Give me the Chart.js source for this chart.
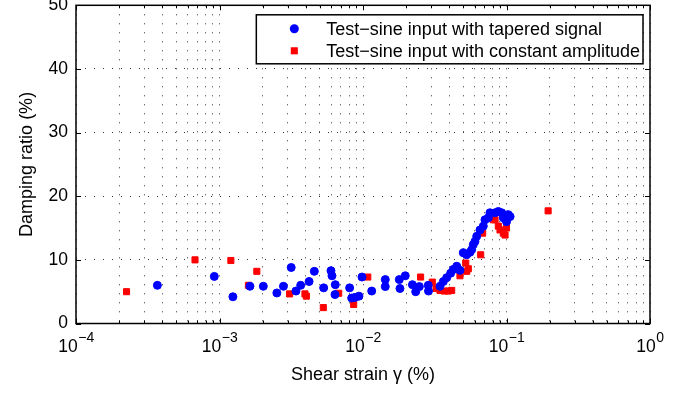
<!DOCTYPE html>
<html>
<head>
<meta charset="utf-8">
<script src="https://cdn.jsdelivr.net/npm/chart.js@4.4.1/dist/chart.umd.min.js"></script>
<style>
  html, body { margin: 0; padding: 0; background: #fff; }
  #wrap { width: 692px; height: 395px; }
</style>
</head>
<body>
<div id="wrap"><canvas id="dampingChart"></canvas></div>
<script>

// test-sine input with tapered signal (blue circles)
const taperedStrain = [3.69e-4, 9.2e-4, 1.24e-3, 1.63e-3, 2.02e-3, 2.51e-3, 2.79e-3, 3.16e-3, 3.41e-3, 3.68e-3,
    4.21e-3, 4.58e-3, 5.32e-3, 5.98e-3, 6.08e-3, 6.41e-3, 6.38e-3, 8.07e-3, 8.34e-3, 8.79e-3,
    9.37e-3, 9.84e-3, 1.15e-2, 1.43e-2, 1.43e-2, 1.79e-2, 1.97e-2, 1.81e-2, 2.21e-2, 2.47e-2,
    2.33e-2, 2.85e-2, 2.86e-2, 3.44e-2, 3.63e-2, 3.83e-2, 4.08e-2, 4.26e-2, 4.5e-2, 4.74e-2,
    5.0e-2, 5.28e-2, 5.57e-2, 5.72e-2, 5.87e-2, 6.03e-2, 6.2e-2, 6.53e-2, 6.89e-2, 7.08e-2,
    7.47e-2, 7.67e-2, 8.32e-2, 8.77e-2, 9.26e-2, 9.77e-2, 0.103, 0.106, 0.1, 9.5e-2];
const taperedDamping = [6.0, 7.4, 4.2, 5.85, 5.85, 4.8, 5.85, 8.8, 5.1, 6.0,
    6.6, 8.2, 5.6, 8.3, 7.5, 6.1, 4.55, 5.6, 4.0, 4.1,
    4.3, 7.3, 5.1, 6.9, 5.8, 6.9, 7.5, 5.5, 6.1, 5.8,
    5.0, 6.0, 5.1, 5.85, 6.6, 7.2, 7.9, 8.5, 9.0, 8.35,
    11.1, 10.8, 11.2, 11.6, 12.4, 12.9, 13.7, 14.7, 15.3, 16.3,
    16.6, 17.4, 17.4, 17.6, 17.4, 16.8, 17.1, 16.8, 16.0, 16.6];

// test-sine input with constant amplitude (red squares)
const constantStrain = [2.25e-4, 6.75e-4, 1.2e-3, 1.59e-3, 1.82e-3, 3.08e-3, 3.94e-3, 4.03e-3, 5.29e-3, 6.77e-3,
    8.61e-3, 1.08e-2, 2.52e-2, 3.04e-2, 3.23e-2, 3.44e-2, 3.69e-2, 3.93e-2, 4.15e-2, 4.74e-2,
    5.2e-2, 5.28e-2, 5.42e-2, 6.61e-2, 6.82e-2, 8.09e-2, 8.32e-2, 8.77e-2, 9.01e-2, 9.5e-2,
    0.1, 9.77e-2, 0.195];
const constantDamping = [5.0, 10.0, 9.9, 6.0, 8.2, 4.65, 4.65, 4.3, 2.5, 4.75,
    3.0, 7.3, 7.3, 6.5, 5.5, 5.2, 5.1, 5.1, 5.2, 7.5,
    9.5, 8.2, 8.6, 10.8, 14.2, 16.3, 16.3, 15.3, 14.7, 14.2,
    15.0, 13.9, 17.7];

const seriesLabels = ['Test\u2212sine input with tapered signal', 'Test\u2212sine input with constant amplitude'];
const xDecades = [1e-4, 1e-3, 1e-2, 1e-1, 1];
const yTickValues = [0, 10, 20, 30, 40, 50];
const xTitle = 'Shear strain \u03b3 (%)';
const yTitle = 'Damping ratio (%)';

const fontFamily = '"Liberation Sans", Arial, sans-serif';


function toPoints(xs, ys) {
    return xs.map((x, i) => ({ x: x, y: ys[i] }));
}


// inward tick marks and the box round the axes
const axesBox = {
    id: 'axesBox',
    beforeDatasetsDraw(chart) {
        const { ctx, chartArea: a, scales: { x, y } } = chart;
        ctx.save();
        ctx.strokeStyle = '#000';
        ctx.lineWidth = 1;
        ctx.beginPath();
        x.ticks.forEach((t) => {
            const px = Math.round(x.getPixelForValue(t.value)) + 0.5;
            const len = xDecades.includes(t.value) ? 5 : 3;
            ctx.moveTo(px, a.bottom); ctx.lineTo(px, a.bottom - len);
            ctx.moveTo(px, a.top); ctx.lineTo(px, a.top + len);
        });
        yTickValues.forEach((v) => {
            const py = Math.round(y.getPixelForValue(v)) + 0.5;
            ctx.moveTo(a.left, py); ctx.lineTo(a.left + 5, py);
            ctx.moveTo(a.right, py); ctx.lineTo(a.right - 5, py);
        });
        ctx.stroke();
        ctx.lineWidth = 1.5;
        ctx.strokeRect(a.left, a.top, a.right - a.left, a.bottom - a.top);
        ctx.restore();
    }
};


// 10^n labels under the log axis
const decadeLabels = {
    id: 'decadeLabels',
    afterDraw(chart) {
        const { ctx, scales: { x } } = chart;
        ctx.save();
        ctx.fillStyle = '#000';
        ctx.textAlign = 'left';
        ctx.textBaseline = 'alphabetic';
        xDecades.forEach((v) => {
            const e = Math.round(Math.log10(v));
            const base = '10';
            const sup = e < 0 ? '\u2212' + Math.abs(e) : String(e);
            ctx.font = '17.5px ' + fontFamily;
            const wb = ctx.measureText(base).width;
            ctx.font = '14px ' + fontFamily;
            const ws = ctx.measureText(sup).width;
            const px = x.getPixelForValue(v);
            const start = px - (wb + ws) / 2;
            const baseY = x.top + 28;
            ctx.font = '17.5px ' + fontFamily;
            ctx.fillText(base, start, baseY);
            ctx.font = '14px ' + fontFamily;
            ctx.fillText(sup, start + wb + 0.5, baseY - 9.5);
        });
        ctx.restore();
    }
};


// legend box inside the plot, top right
const insideLegend = {
    id: 'insideLegend',
    afterDraw(chart) {
        const { ctx, chartArea } = chart;
        const sets = chart.data.datasets;
        ctx.save();
        ctx.font = '18px ' + fontFamily;
        const textW = Math.max(...sets.map((d) => ctx.measureText(d.label).width));
        const right = chartArea.right - 7;
        const top = chartArea.top + 9.5;
        const left = right - (textW + 70 + 3);
        const h = 49;
        ctx.fillStyle = '#fff';
        ctx.fillRect(left, top, right - left, h);
        ctx.strokeStyle = '#000';
        ctx.lineWidth = 1.5;
        ctx.strokeRect(left, top, right - left, h);

        sets.forEach((d, i) => {
            const cy = top + 14 + i * 22;
            const mx = left + 38;
            ctx.fillStyle = d.backgroundColor;
            ctx.beginPath();
            if (d.pointStyle === 'rect') {
                const s = d.pointRadius * Math.SQRT1_2 + d.borderWidth / 2;
                ctx.rect(mx - s, cy - s, 2 * s, 2 * s);
            } else {
                ctx.arc(mx, cy, d.pointRadius + d.borderWidth / 2, 0, Math.PI * 2);
            }
            ctx.fill();
            ctx.fillStyle = '#000';
            ctx.textBaseline = 'middle';
            ctx.textAlign = 'left';
            ctx.fillText(d.label, left + 70, cy + 1);
        });
        ctx.restore();
    }
};


const ctx = document.getElementById('dampingChart').getContext('2d');

new Chart(ctx, {
    type: 'scatter',
    data: {
        datasets: [
            {
                label: seriesLabels[0],
                data: toPoints(taperedStrain, taperedDamping),
                pointStyle: 'circle',
                pointRadius: 4,
                borderWidth: 1,
                backgroundColor: '#0000ff',
                borderColor: '#0000ff'
            },
            {
                label: seriesLabels[1],
                data: toPoints(constantStrain, constantDamping),
                pointStyle: 'rect',
                pointRadius: 4.3,
                borderWidth: 1,
                backgroundColor: '#ff0000',
                borderColor: '#ff0000'
            }
        ]
    },
    options: {
        responsive: true,
        maintainAspectRatio: false,
        animation: false,
        layout: { padding: { top: 4.5, right: 42, left: 0, bottom: 0 } },
        plugins: {
            legend: { display: false },
            tooltip: { enabled: false }
        },
        scales: {
            x: {
                type: 'logarithmic',
                min: xDecades[0],
                max: xDecades[xDecades.length - 1],
                afterBuildTicks: (scale) => {
                    const t = [];
                    for (let i = 0; i < xDecades.length - 1; i++) {
                        for (let m = 1; m < 10; m++) t.push({ value: xDecades[i] * m });
                    }
                    t.push({ value: xDecades[xDecades.length - 1] });
                    scale.ticks = t;
                },
                afterFit: (scale) => {
                    scale.height = 71.5;
                    scale.paddingLeft = 0;
                    scale.paddingRight = 0;
                },
                ticks: { display: false },
                grid: { color: '#333', lineWidth: 1, drawTicks: false },
                border: { display: false, dash: [1, 8] },
                title: {
                    display: true,
                    text: xTitle,
                    color: '#000',
                    font: { family: fontFamily, size: 18 },
                    padding: { top: 0, bottom: 9.5 }
                }
            },
            y: {
                min: yTickValues[0],
                max: yTickValues[yTickValues.length - 1],
                afterBuildTicks: (scale) => {
                    scale.ticks = yTickValues.map((v) => ({ value: v }));
                },
                afterFit: (scale) => {
                    scale.width = 76;
                    scale.paddingTop = 0;
                    scale.paddingBottom = 0;
                },
                ticks: {
                    color: '#000',
                    padding: 8,
                    font: { family: fontFamily, size: 17.5 }
                },
                grid: { color: '#333', lineWidth: 1, drawTicks: false },
                border: { display: false, dash: [1, 8] },
                title: {
                    display: true,
                    text: yTitle,
                    color: '#000',
                    font: { family: fontFamily, size: 18 },
                    padding: { top: 16.5, bottom: 0 }
                }
            }
        }
    },
    plugins: [axesBox, decadeLabels, insideLegend]
});

</script>
</body>
</html>
